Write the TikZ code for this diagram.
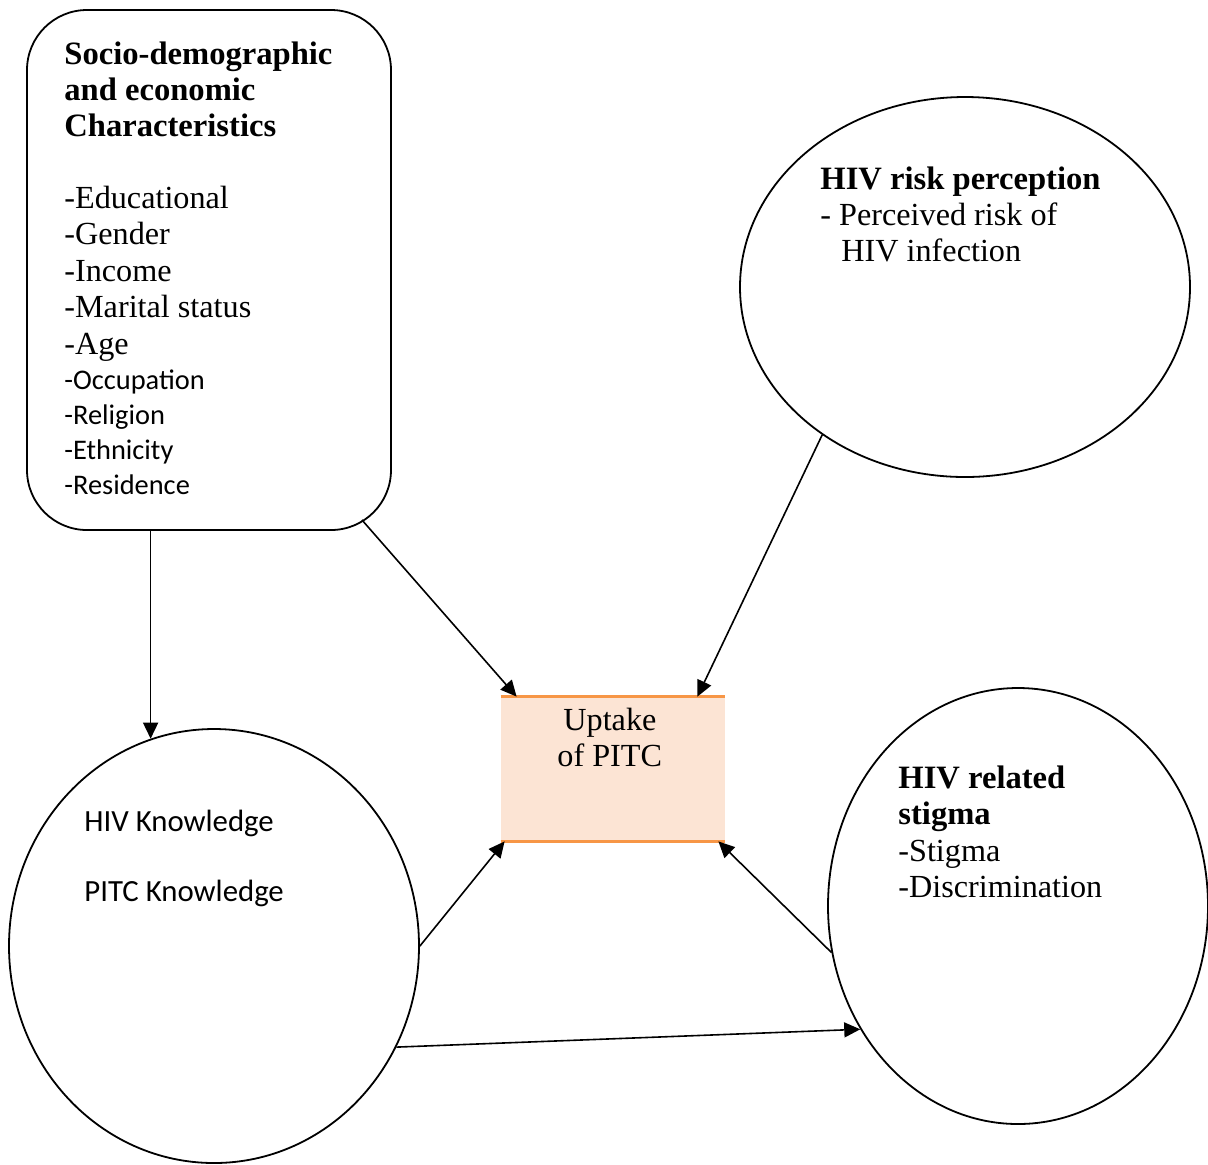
\documentclass[tikz,border=0pt]{standalone}
\usepackage{fontspec}
\setmainfont{Liberation Serif}
\newfontfamily\calfont{Carlito}
\usetikzlibrary{arrows.meta,shapes.geometric,calc}
\definecolor{pitcline}{RGB}{247,150,70}
\definecolor{pitcfill}{RGB}{252,228,212}
\tikzset{
  blob/.style={draw,ellipse,line width=0.9pt,inner sep=0pt},
  cbox/.style={draw,rectangle,rounded corners=30pt,line width=0.9pt,minimum width=182pt,minimum height=260pt},
  outc/.style={rectangle,fill=pitcfill,minimum width=112pt,minimum height=72pt,inner sep=0pt},
  rim/.style={pitcline,line width=1.5pt},
  arr/.style={-{Triangle[length=8pt,width=7.5pt]},line width=0.8pt},
  hd/.style={font=\bfseries\fontsize{16.3}{19}\selectfont,inner sep=0pt,anchor=base west},
  ser/.style={font=\fontsize{16.1}{19}\selectfont,inner sep=0pt,anchor=base west},
  cal/.style={font=\calfont\fontsize{14.2}{17}\selectfont,inner sep=0pt,anchor=base west},
  calk/.style={cal,font=\calfont\fontsize{15.4}{18}\selectfont}
}

\begin{document}
\begin{tikzpicture}[x=0.5pt,y=-0.5pt]
  \useasboundingbox (0,0) rectangle (1208,1164);
  % boxes
  \node[cbox] (socio) at (209,270) {};
  \node[blob,minimum width=225pt,minimum height=190pt] (risk) at (965,287) {};
  \node[blob,minimum width=205pt,minimum height=217pt] (know) at (214,946) {};
  \node[blob,minimum width=190pt,minimum height=218pt] (stig) at (1018,906) {};
  \node[outc] (pitc) at (613,769) {};
  \draw[rim] (pitc.north west) -- (pitc.north east);
  \draw[rim] (pitc.south west) -- (pitc.south east);
  % texts
  \foreach \t [count=\i from 0] in {Socio-demographic,and economic,Characteristics}
    \node[hd] (sh\i) at (64,64+36*\i) {\t};
  \foreach \t [count=\i from 0] in {Educational,Gender,Income,Marital status,Age}
    \node[ser] (sl\i) at (64,208+36.5*\i) {-\t};
  \foreach \t [count=\i from 0] in {Occupation,Religion,Ethnicity,Residence}
    \node[cal] (sc\i) at (64,389+35*\i) {-\t};
  \node[hd] (rh) at (820,189) {HIV risk perception};
  \node[ser] (r1) at (820,225) {- Perceived risk of};
  \node[ser] (r2) at (841,261) {HIV infection};
  \node[ser] (u1) at (563,730) {Uptake};
  \node[ser] (u2) at (557,766) {of PITC};
  \node[calk] (k1) at (84,831) {HIV Knowledge};
  \node[calk] (k2) at (84,901) {PITC Knowledge};
  \node[hd] (st0) at (898,788) {HIV related};
  \node[hd] (st1) at (898,824) {stigma};
  \node[ser] (st2) at (898,861) {-Stigma};
  \node[ser] (st3) at (898,897) {-Discrimination};
  % arrows
  \draw[arr] (socio.south -| know.107) -- (know.107);
  \draw[arr] ($(socio.south east)+(-30,-11)$) -- ($(pitc.north west)+(16,0)$);
  \draw[arr] (risk.226) -- ($(pitc.north east)+(-28,0)$);
  \draw[arr] (know.east) -- ($(pitc.south west)+(4,0)$);
  \draw[arr] (stig.194) -- ($(pitc.south east)+(-7,0)$);
  \draw[arr] (know.-29) -- (stig.218);
\end{tikzpicture}
\end{document}
